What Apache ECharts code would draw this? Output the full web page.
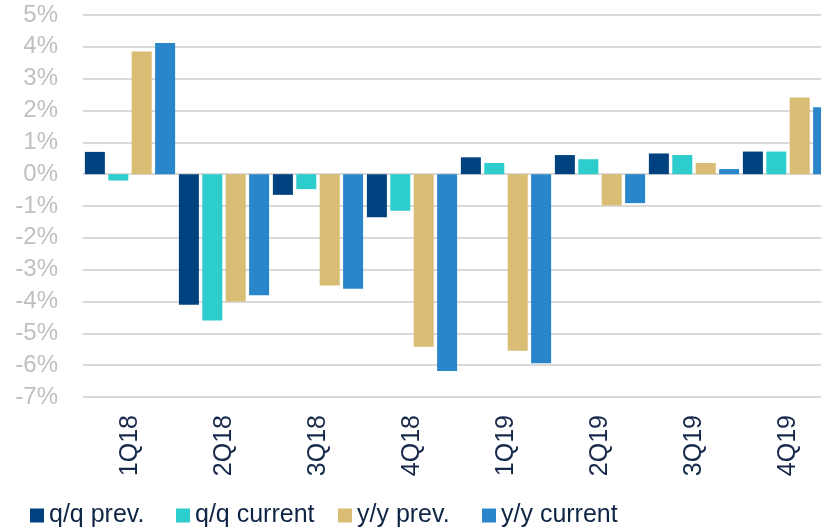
<!DOCTYPE html>
<html>
<head>
<meta charset="utf-8">
<script src="https://cdn.jsdelivr.net/npm/echarts@6/dist/echarts.min.js"></script>
<style>
	html, body { margin: 0; padding: 0; background: #fff; }
	#chart { width: 821px; height: 529px; }
</style>
</head>
<body>
<div id="chart"></div>
<script>
// quarters on the x axis
const quarters = ['1Q18', '2Q18', '3Q18', '4Q18', '1Q19', '2Q19', '3Q19', '4Q19']

// values in percent
const qqPrev = [0.7, -4.1, -0.65, -1.35, 0.53, 0.6, 0.65, 0.71]
const qqCurrent = [-0.2, -4.6, -0.47, -1.15, 0.35, 0.47, 0.6, 0.71]
const yyPrev = [3.85, -4.0, -3.5, -5.42, -5.55, -0.98, 0.35, 2.41]
const yyCurrent = [4.12, -3.8, -3.6, -6.18, -5.94, -0.91, 0.16, 2.1]

const seriesNames = ['q/q prev.', 'q/q current', 'y/y prev.', 'y/y current']
const seriesColors = ['#00427f', '#2ecdcd', '#d9bd74', '#2a86cb']
const seriesData = [qqPrev, qqCurrent, yyPrev, yyCurrent]

// legend slots, like the original layout
const legendLeft = [30, 176, 338, 482]

const font = '"Liberation Sans", Arial, sans-serif'

const chart = echarts.init(document.getElementById('chart'), null, { renderer: 'canvas' })

const options = {
	animation: false,
	grid: {
		left: 83,
		top: 15,
		bottom: 132,
		width: 752,
		// the plot runs past the right edge in the original
		outerBoundsMode: 'none'
	},
	legend: seriesNames.map((name, i) => ({
		data: [name],
		left: legendLeft[i],
		top: 503,
		padding: 0,
		itemWidth: 14,
		itemHeight: 14,
		icon: 'rect',
		textStyle: {
			fontFamily: font,
			fontSize: 25,
			color: '#0f2546'
		}
	})),
	xAxis: {
		type: 'category',
		data: quarters,
		axisLine: { show: false, onZero: false },
		axisTick: { show: false },
		axisLabel: {
			rotate: 90,
			margin: 18,
			fontFamily: font,
			fontSize: 25,
			color: '#17294a'
		}
	},
	yAxis: {
		type: 'value',
		min: -7,
		max: 5,
		interval: 1,
		axisLine: { show: false },
		axisTick: { show: false },
		axisLabel: {
			margin: 25,
			fontFamily: font,
			fontSize: 24,
			color: '#bfbfbf',
			formatter: (v) => v + '%'
		},
		splitLine: {
			lineStyle: {
				color: '#d9d9d9',
				width: 2
			}
		}
	},
	series: seriesData.map((data, i) => ({
		name: seriesNames[i],
		type: 'bar',
		data: data,
		barGap: '17%',
		barCategoryGap: '4%',
		itemStyle: { color: seriesColors[i] }
	}))
}

chart.setOption(options)
</script>
</body>
</html>
